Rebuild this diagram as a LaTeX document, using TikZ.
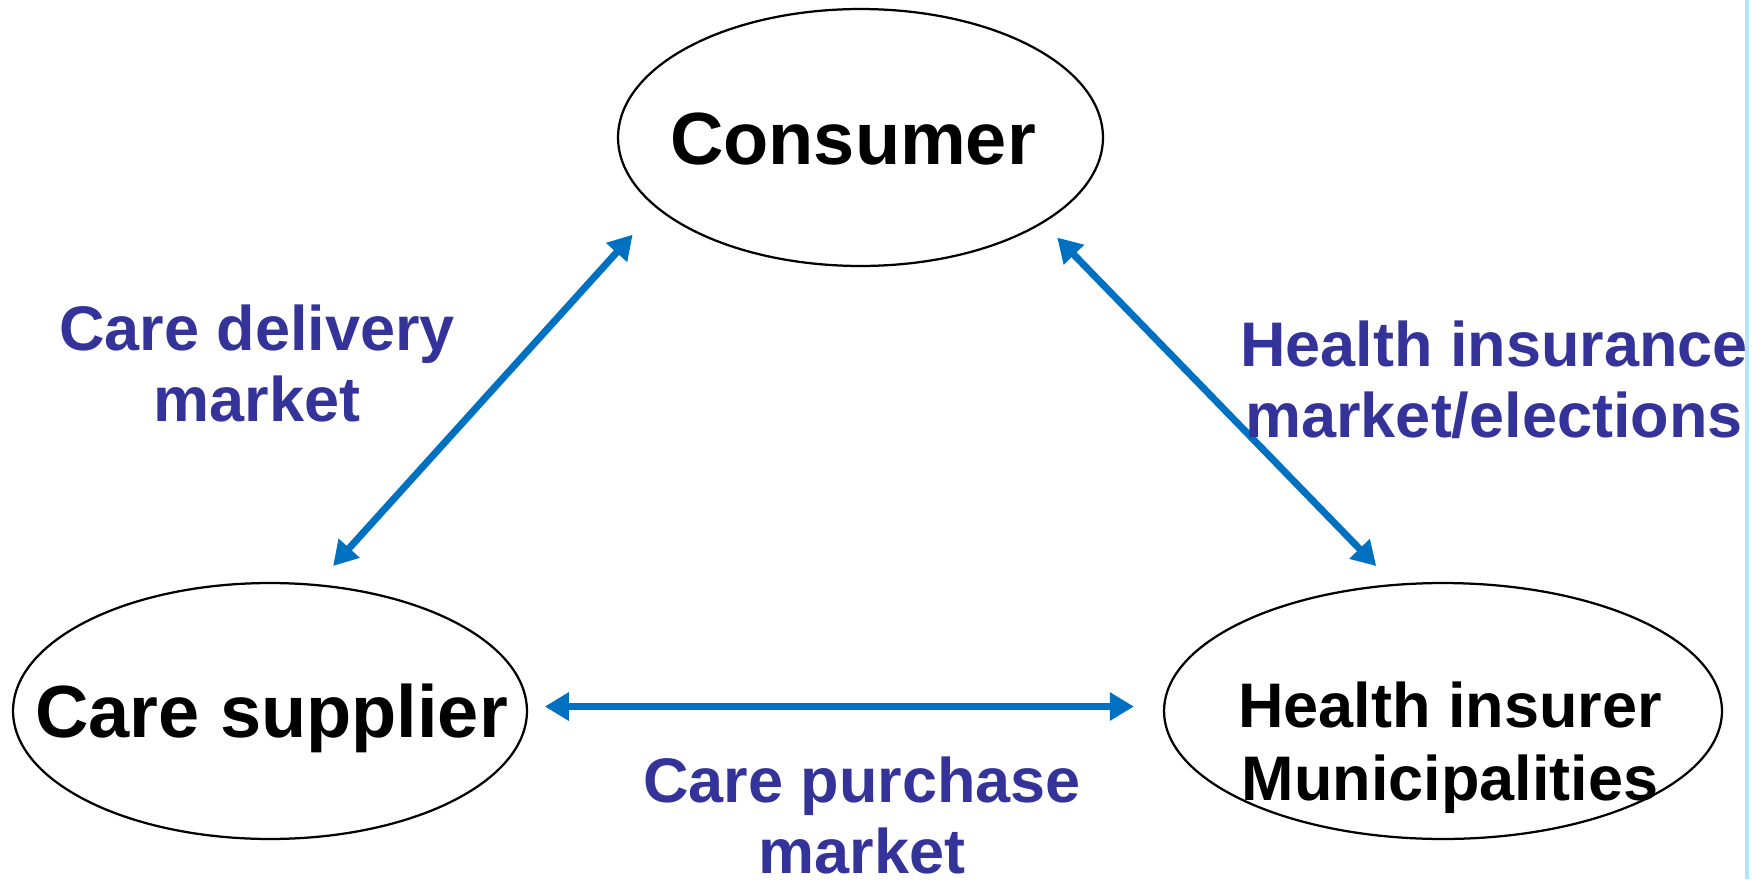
\documentclass[tikz,border=0pt]{standalone}
\usepackage{fontspec}
\setmainfont{Liberation Sans}
\usetikzlibrary{arrows.meta,shapes.geometric}
\definecolor{labelblue}{HTML}{333399}
\definecolor{arrowblue}{HTML}{0070C0}
\definecolor{edgeblue}{HTML}{B3E5FC}

\begin{document}
\begin{tikzpicture}[x=0.02cm,y=-0.02cm,
  oval/.style={ellipse, draw=black, line width=0.045cm, inner sep=0pt, outer sep=0pt},
  party/.style={font=\bfseries\fontsize{42.1pt}{48pt}\selectfont, anchor=base, inner sep=0pt},
  partytwo/.style={font=\bfseries\fontsize{35.85pt}{41.4pt}\selectfont, align=center, anchor=base, inner sep=0pt},
  market/.style={font=\bfseries\fontsize{35.85pt}{40.2pt}\selectfont, text=labelblue, align=center, anchor=base, inner sep=0pt},
  link/.style={draw=arrowblue, line width=0.14cm,
    {Triangle[length=0.48cm,width=0.54cm]}-{Triangle[length=0.48cm,width=0.54cm]}}
]
% page area
\fill[white] (0,0) rectangle (1764,879);
\path[use as bounding box] (0,0) rectangle (1764,879);

% the three parties
\node[oval, minimum width=9.7cm, minimum height=5.14cm] (con) at (860.5,137.5) {};
\node[oval, minimum width=10.28cm, minimum height=5.12cm] (cs) at (270,711) {};
\node[oval, minimum width=11.16cm, minimum height=5.12cm] (hi) at (1443,711) {};

% names; a two-line node sits on the baseline of its last line
\node[party] (con-t) at (853,164) {Consumer};
\node[party] (cs-t) at (271.5,737) {Care supplier};
\node[partytwo] (hi-t) at (1450,800) {Health insurer\\Municipalities};

% markets between the parties
\draw[link, shorten <=0.516cm, shorten >=0.734cm] (cs.70.1) -- (con.199.4);
\draw[link, shorten <=0.424cm, shorten >=0.528cm] (con.335.8) -- (hi.111.6);
\draw[link, shorten <=0.36cm, shorten >=0.62cm] (cs.1.34) -- (hi.178.77 |- cs.1.34);

\node[market] (m-delivery) at (257,421) {Care delivery\\market};
\node[market] (m-insurance) at (1494,437) {Health insurance\\market/elections};
\node[market] (m-purchase) at (862,873) {Care purchase\\market};

% slide edge rule
\draw[edgeblue, line width=0.08cm] (1747,0) -- (1747,879);
\end{tikzpicture}
\end{document}
